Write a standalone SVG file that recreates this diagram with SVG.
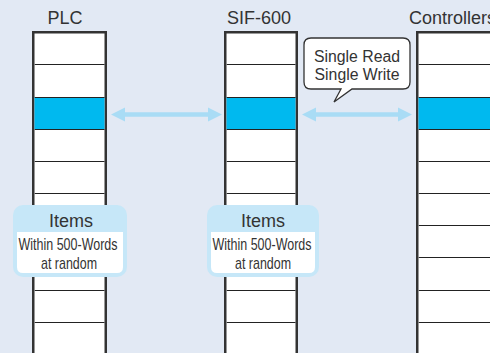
<svg xmlns="http://www.w3.org/2000/svg" width="490" height="353" viewBox="0 0 490 353">
<style>
.bg{fill:#e2e9f4}
.frame{fill:#fff;stroke:#333;stroke-width:2.5}
.row{stroke:#222;stroke-width:1.2}
.hl{fill:#00b9ef}
.title{font-family:"Liberation Sans",Arial,sans-serif;font-size:18px;fill:#333;text-anchor:middle}
.arrow{fill:#a9dcf5}
.bub{fill:#c6e7f8}
.bubin{fill:#fff}
.it{font-family:"Liberation Sans",Arial,sans-serif;font-size:18px;fill:#333;text-anchor:middle}
.sm{font-family:"Liberation Sans",Arial,sans-serif;font-size:17px;fill:#333;text-anchor:middle}
.call{fill:#fff;stroke:#333;stroke-width:1.3}
.ct{font-family:"Liberation Sans",Arial,sans-serif;font-size:15.8px;fill:#333;text-anchor:middle}
</style>
<defs>
<g id="rows">
<line class="row" x1="0" y1="64.5" x2="200" y2="64.5"/>
<line class="row" x1="0" y1="97.5" x2="200" y2="97.5"/>
<line class="row" x1="0" y1="129.5" x2="200" y2="129.5"/>
<line class="row" x1="0" y1="161.5" x2="200" y2="161.5"/>
<line class="row" x1="0" y1="193.5" x2="200" y2="193.5"/>
<line class="row" x1="0" y1="225.5" x2="200" y2="225.5"/>
<line class="row" x1="0" y1="257.5" x2="200" y2="257.5"/>
<line class="row" x1="0" y1="290.5" x2="200" y2="290.5"/>
<line class="row" x1="0" y1="322.5" x2="200" y2="322.5"/>
</g>
</defs>
<rect class="bg" x="0" y="0" width="490" height="353"/>

<g id="plc">
<text class="title" x="65" y="24">PLC</text>
<rect class="frame" x="33.25" y="32.25" width="72.5" height="340"/>
<rect class="hl" x="34.5" y="97" width="70" height="32"/>
<svg x="34.5" y="0" width="70" height="353" overflow="hidden"><use href="#rows"/></svg>
</g>

<g id="sif600">
<text class="title" x="259" y="24">SIF-600</text>
<rect class="frame" x="225.25" y="32.25" width="71.5" height="340"/>
<rect class="hl" x="226.5" y="97" width="69" height="32"/>
<svg x="226.5" y="0" width="69" height="353" overflow="hidden"><use href="#rows"/></svg>
</g>

<g id="controllers">
<text class="title" x="452.5" y="24">Controllers</text>
<rect class="frame" x="417.25" y="32.25" width="100" height="340"/>
<rect class="hl" x="418.5" y="97" width="80" height="32"/>
<svg x="418.5" y="0" width="80" height="353" overflow="hidden"><use href="#rows"/></svg>
</g>

<g id="connectors">
<polygon class="arrow" points="111,114.5 125,107.5 125,112.2 208,112.2 208,107.5 222,114.5 208,121.5 208,116.8 125,116.8 125,121.5"/>
<polygon class="arrow" points="302,114.5 316,107.5 316,112.2 398,112.2 398,107.5 412,114.5 398,121.5 398,116.8 316,116.8 316,121.5"/>
</g>

<g id="callout">
<path class="call" d="M311,38 H403 Q410,38 410,45 V82 Q410,89 403,89 H352 L334,102 L341,89 H311 Q304,89 304,82 V45 Q304,38 311,38 Z"/>
<text class="ct" x="357" y="62">Single Read</text>
<text class="ct" x="357" y="80">Single Write</text>
</g>

<g id="items-plc">
<rect class="bub" x="13" y="205" width="114" height="72" rx="10"/>
<path class="bubin" d="M17,232 H123 V267 Q123,273 117,273 H23 Q17,273 17,267 Z"/>
<text class="it" x="71" y="227">Items</text>
<text class="sm" x="68" y="250" textLength="99" lengthAdjust="spacingAndGlyphs">Within 500-Words</text>
<text class="sm" x="69" y="269" textLength="56" lengthAdjust="spacingAndGlyphs">at random</text>
</g>

<g id="items-sif">
<rect class="bub" x="207" y="205" width="112" height="72" rx="10"/>
<path class="bubin" d="M211,232 H315 V267 Q315,273 309,273 H217 Q211,273 211,267 Z"/>
<text class="it" x="263" y="227">Items</text>
<text class="sm" x="262" y="250" textLength="99" lengthAdjust="spacingAndGlyphs">Within 500-Words</text>
<text class="sm" x="263" y="269" textLength="56" lengthAdjust="spacingAndGlyphs">at random</text>
</g>
</svg>
